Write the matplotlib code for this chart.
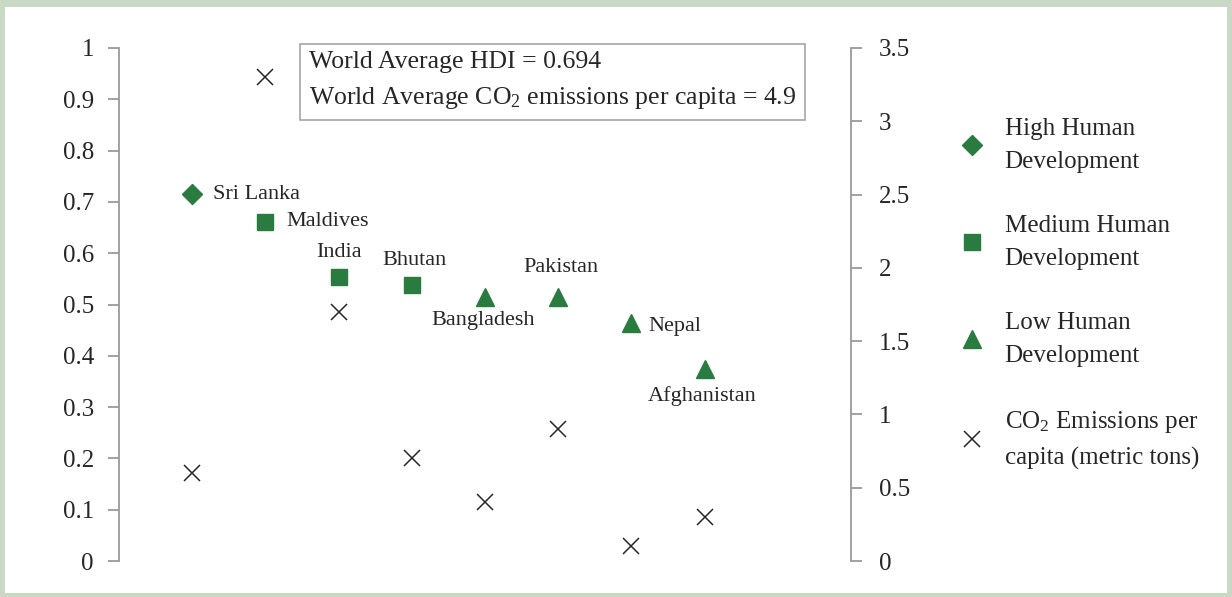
import matplotlib
matplotlib.use("Agg")
import matplotlib.pyplot as plt
from matplotlib.lines import Line2D
from matplotlib.patches import Rectangle

plt.rcParams["font.family"] = ["Liberation Serif", "DejaVu Serif"]
plt.rcParams["mathtext.default"] = "regular"

countries = ["Sri Lanka", "Maldives", "India", "Bhutan",
             "Bangladesh", "Pakistan", "Nepal", "Afghanistan"]
hdi = [0.715, 0.661, 0.554, 0.538, 0.515, 0.515, 0.463, 0.374]
co2 = [0.6, 3.3, 1.7, 0.7, 0.4, 0.9, 0.1, 0.3]
groups = ["high", "medium", "medium", "medium", "low", "low", "low", "low"]
world_hdi = 0.694
world_co2 = 4.9

GREEN = "#2a7b3f"
TEXT = "#262626"
SPINE = "#9a9a9a"
MARKERS = {"high": "D", "medium": "s", "low": "^"}
MSIZE = {"high": 10, "medium": 11.5, "low": 13}

# label placement: (dx, dy) in points, ha, va
label_pos = {
    "Sri Lanka": (15, 0, "left", "center"),
    "Maldives": (15, 0, "left", "center"),
    "India": (0, 11, "center", "bottom"),
    "Bhutan": (2, 11, "center", "bottom"),
    "Bangladesh": (-1, -10, "center", "top"),
    "Pakistan": (2, 14, "center", "bottom"),
    "Nepal": (12, -2, "left", "center"),
    "Afghanistan": (-2, -12, "center", "top"),
}

fig = plt.figure(figsize=(12.32, 5.97), dpi=100)
fig.patch.set_facecolor("#cad9c6")
fig.add_artist(Rectangle((5 / 1232, 4 / 597), 1 - 10 / 1232, 1 - 11 / 597,
                         transform=fig.transFigure, facecolor="white",
                         edgecolor="none", zorder=0))

ax = fig.add_axes([119 / 1232, 36 / 597, 732 / 1232, 513 / 597])
ax.set_facecolor("none")
ax2 = ax.twinx()

x = list(range(1, len(countries) + 1))
for xi, name, h, g in zip(x, countries, hdi, groups):
    ax.plot(xi, h, marker=MARKERS[g], ms=MSIZE[g], color=GREEN,
            linestyle="none", zorder=3)
    dx, dy, ha, va = label_pos[name]
    ax.annotate(name, (xi, h), xytext=(dx, dy), textcoords="offset points",
                ha=ha, va=va, fontsize=16, color=TEXT)

ax2.plot(x, co2, marker="x", ms=12, mew=1.1, color=TEXT, linestyle="none")

ax.set_xlim(0, 10)
ax.set_ylim(0, 1)
ax2.set_ylim(0, 3.5)
ax.set_yticks([i / 10 for i in range(11)])
ax.set_yticklabels(["0"] + [f"{i / 10:.1f}" for i in range(1, 10)] + ["1"])
ax2.set_yticks([i * 0.5 for i in range(8)])
ax2.set_yticklabels(["0", "0.5", "1", "1.5", "2", "2.5", "3", "3.5"])

for a in (ax, ax2):
    for s in a.spines.values():
        s.set_visible(False)
    a.tick_params(axis="y", colors=SPINE, labelcolor=TEXT, labelsize=18,
                  length=8, width=1.3, pad=10)
ax.spines["left"].set_visible(True)
ax.spines["left"].set_color(SPINE)
ax.spines["left"].set_linewidth(1.3)
ax2.spines["right"].set_visible(True)
ax2.spines["right"].set_color(SPINE)
ax2.spines["right"].set_linewidth(1.3)
ax.set_xticks([])
ax2.tick_params(axis="y", pad=12)

fig.text(309 / 1232, 1 - 51 / 597,
         f"World Average HDI = {world_hdi}\n"
         f"World Average CO$_2$ emissions per capita = {world_co2}",
         ha="left", va="top", fontsize=18.5, color=TEXT, linespacing=1.62,
         bbox=dict(boxstyle="square,pad=0.35", facecolor="white",
                   edgecolor="#a6a6a6", linewidth=1.2))

handles = [
    Line2D([], [], marker="D", ms=10, color=GREEN, linestyle="none"),
    Line2D([], [], marker="s", ms=11.5, color=GREEN, linestyle="none"),
    Line2D([], [], marker="^", ms=13, color=GREEN, linestyle="none"),
    Line2D([], [], marker="x", ms=12, mew=1.1, color=TEXT, linestyle="none"),
]
labels = ["High Human\nDevelopment", "Medium Human\nDevelopment",
          "Low Human\nDevelopment", "CO$_2$ Emissions per\ncapita (metric tons)"]
leg = fig.legend(handles, labels, loc="upper left",
                 bbox_to_anchor=(947 / 1232, 1 - 108 / 597),
                 frameon=False, fontsize=18, labelspacing=1.68,
                 handletextpad=0.7, handlelength=1.2, borderaxespad=0)
for t in leg.get_texts():
    t.set_color(TEXT)
    t.set_linespacing(1.65)

fig.savefig("out.png", dpi=100, facecolor=fig.get_facecolor())
